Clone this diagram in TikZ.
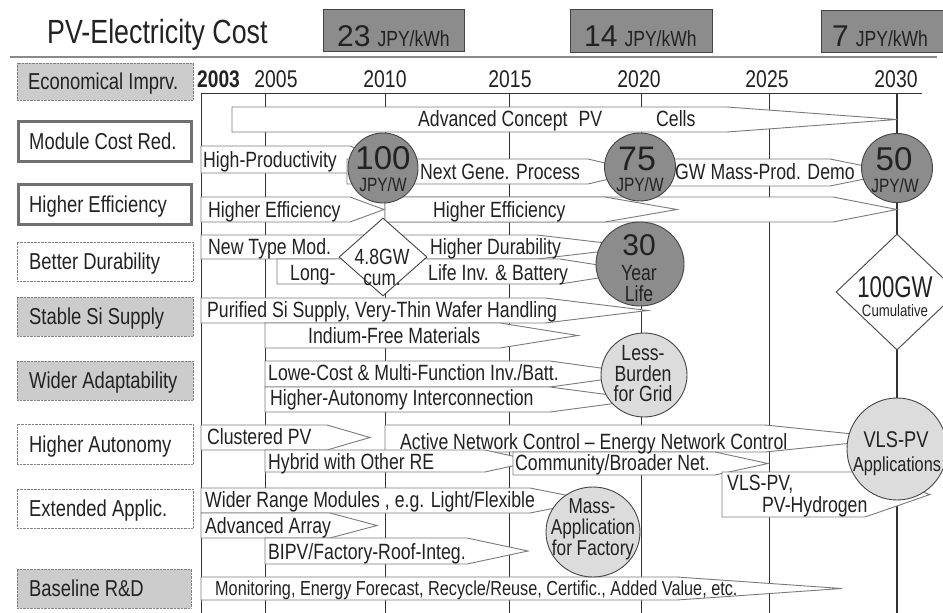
\documentclass[tikz,border=0pt]{standalone}
\usepackage{fontspec}
\setmainfont[FakeStretch=0.8]{Liberation Sans}
\newfontfamily\widefont{Liberation Sans}
\newfontfamily\narrowfont[FakeStretch=0.74]{Liberation Sans}
\usetikzlibrary{shapes.geometric}
\definecolor{txt}{HTML}{222222}
\definecolor{dkfill}{HTML}{8C8C8C}
\definecolor{dkline}{HTML}{444444}
\definecolor{ltfill}{HTML}{DCDCDC}
\definecolor{lblfill}{HTML}{CCCCCC}
\definecolor{arrline}{HTML}{7A7A7A}
\definecolor{yrline}{HTML}{333333}
\definecolor{thickline}{HTML}{707070}
\definecolor{sepline}{HTML}{8A8A8A}
\newcommand{\fsz}[1]{\fontsize{#1}{#1}\selectfont}
\newcommand{\pvarrow}[5]{\draw[arrowbox] (#1,#2) -- (#4,#2) -- (#5,{(#2+#3)/2}) -- (#4,#3) -- (#1,#3) -- cycle;}
\tikzset{
  body/.style={font=\fsz{22.1}, text=txt, inner sep=0pt, anchor=west, text height=15.8pt, text depth=0pt},
  lbl/.style={font=\fsz{23}, text=txt, inner sep=0pt, anchor=west, text height=16.5pt, text depth=0pt},
  cbase/.style={text=txt, inner sep=0pt, anchor=base},
  arrowbox/.style={draw=arrline, fill=white, line width=0.9pt},
  yearline/.style={draw=yrline, line width=0.9pt},
  dkcirc/.style={ellipse, draw=dkline, fill=dkfill, line width=0.9pt, inner sep=0pt},
  ltcirc/.style={ellipse, draw=dkline, fill=ltfill, line width=0.9pt, inner sep=0pt},
  dia/.style={diamond, draw=dkline, fill=white, line width=0.9pt, inner sep=0pt},
  lblgray/.style={rectangle, draw=gray, fill=lblfill, dash pattern=on 0.7pt off 0.7pt, line width=0.7pt, inner sep=0pt, minimum width=176pt},
  lbldot/.style={rectangle, draw=gray, fill=white, dash pattern=on 0.7pt off 0.7pt, line width=0.7pt, inner sep=0pt, minimum width=176pt},
  lblthick/.style={rectangle, draw=thickline, fill=white, line width=3pt, inner sep=0pt, minimum width=173pt, minimum height=40pt},
  costbox/.style={rectangle, draw=dkline, fill=dkfill, line width=1pt, inner sep=0pt},
}
\begin{document}
\begin{tikzpicture}[x=1pt,y=-1pt]
\useasboundingbox (0,0) rectangle (943,613);
\clip (0,0) rectangle (943,613);
\fill[white] (0,0) rectangle (943,613);

% header
\node[cbase, font=\fsz{33.5}, anchor=base west] (title) at (47,43) {PV-Electricity Cost};
\node[costbox, minimum width=141pt, minimum height=42pt] (cost23) at (393.5,30) {};
\node[costbox, minimum width=142pt, minimum height=43pt] (cost14) at (641,30.5) {};
\node[costbox, minimum width=130pt, minimum height=42pt] (cost7) at (886,31) {};
\node[cbase, anchor=base west] (c23t) at (337,46) {{\widefont\fsz{30}23}\hspace{7pt}{\fsz{21.9}JPY/kWh}};
\node[cbase, anchor=base west] (c14t) at (584,46) {{\widefont\fsz{30}14}\hspace{7pt}{\fsz{21.9}JPY/kWh}};
\node[cbase, anchor=base west] (c7t) at (832,46) {{\widefont\fsz{30}7}\hspace{7pt}{\fsz{21.9}JPY/kWh}};
\draw[sepline, line width=2pt] (10,57) -- (937,57);

% year labels
\node[cbase, font=\bfseries\fsz{24}, anchor=base west] (y2003) at (197,87) {2003};
\node[cbase, font=\fsz{24.2}] (y2005) at (276,87) {2005};
\node[cbase, font=\fsz{24.2}] (y2010) at (385,87) {2010};
\node[cbase, font=\fsz{24.2}] (y2015) at (510,87) {2015};
\node[cbase, font=\fsz{24.2}] (y2020) at (639,87) {2020};
\node[cbase, font=\fsz{24.2}] (y2025) at (767,87) {2025};
\node[cbase, font=\fsz{24.2}] (y2030) at (896,87) {2030};

% axis and year lines
\draw[yearline] (201,93) -- (922,93);
\foreach \xx in {201,265,385,509,641,769} \draw[yearline] (\xx,93) -- (\xx,613);
\draw[yearline, line width=1.6pt] (897,93) -- (897,613);

% arrows
\pvarrow{232}{107}{132}{727}{897}
\pvarrow{201}{146}{173}{350}{385}
\pvarrow{347}{159}{184}{588}{641}
\pvarrow{641}{159}{186}{830}{897}
\pvarrow{385}{197}{222}{833}{897}
\pvarrow{201}{197}{222}{350}{384}
\pvarrow{385}{197}{222}{605}{677}
\pvarrow{201}{235}{259}{537}{640}
\pvarrow{277}{259}{284}{560}{640}
\pvarrow{201}{298}{323}{545}{648}
\pvarrow{265}{323}{348}{500}{578}
\pvarrow{265}{361}{387}{550}{644}
\pvarrow{265}{387}{412}{550}{644}
\pvarrow{201}{425}{450}{327}{370}
\pvarrow{385}{425}{452}{765}{897}
\pvarrow{265}{450}{472}{485}{535}
\pvarrow{513}{452}{475}{715}{768}
\pvarrow{722}{472}{517}{865}{930}
\pvarrow{201}{488}{513}{530}{593}
\pvarrow{201}{513}{538}{330}{377}
\pvarrow{265}{538}{564}{467}{528}
\pvarrow{201}{577}{600}{677}{842}

% arrow texts
\node[body] (tadv) at (418,119) {Advanced Concept\hspace{11pt}PV\hspace{54pt}Cells};
\node[body] (thp) at (203,160) {High-Productivity};
\node[body] (tng) at (420,172) {Next Gene. Process};
\node[body] (tgw) at (675,172) {GW Mass-Prod. Demo};
\node[body] (the1) at (208,210) {Higher Efficiency};
\node[body] (the2) at (433,210) {Higher Efficiency};
\node[body] (tnt) at (208,247) {New Type Mod.};
\node[body] (thd) at (430,247) {Higher Durability};
\node[body] (tlong) at (290,273) {Long-};
\node[body] (tlife) at (428,273) {Life Inv. \& Battery};
\node[body] (tpur) at (207,310) {Purified Si Supply, Very-Thin Wafer Handling};
\node[body] (tind) at (308,336) {Indium-Free Materials};
\node[body] (tlow) at (268,373) {Lowe-Cost \& Multi-Function Inv./Batt.};
\node[body] (thai) at (270,398) {Higher-Autonomy Interconnection};
\node[body] (tclu) at (207,437) {Clustered PV};
\node[body] (tact) at (400,442) {Active Network Control – Energy Network Control};
\node[body] (thyb) at (268,462) {Hybrid with Other RE};
\node[body] (tcom) at (515,463) {Community/Broader Net.};
\node[body] (tvls1) at (727,483) {VLS-PV,};
\node[body] (tvls2) at (762,505) {PV-Hydrogen};
\node[body] (twid) at (205,500) {Wider Range Modules , e.g. Light/Flexible};
\node[body] (tarr) at (205,526) {Advanced Array};
\node[body] (tbipv) at (268,552) {BIPV/Factory-Roof-Integ.};
\node[body, font=\fsz{20.3}, text height=14.5pt] (tmon) at (215,588) {Monitoring, Energy Forecast, Recycle/Reuse, Certific., Added Value, etc.};

% milestone circles
\node[dkcirc, minimum width=70pt, minimum height=70pt] (c100) at (383,168) {};
\node[cbase, font=\widefont\fsz{33}] at (383,169) {100};
\node[cbase, font=\fsz{19.3}] at (383,191) {JPY/W};
\node[dkcirc, minimum width=71pt, minimum height=68pt] (c75) at (640,167) {};
\node[cbase, font=\widefont\fsz{34}] at (637,170) {75};
\node[cbase, font=\fsz{19.3}] at (640,191) {JPY/W};
\node[dkcirc, minimum width=71pt, minimum height=69pt] (c50) at (897,168) {};
\node[cbase, font=\widefont\fsz{33}] at (894,170) {50};
\node[cbase, font=\fsz{19.3}] at (895,192) {JPY/W};
\node[dkcirc, minimum width=88pt, minimum height=84pt] (c30) at (640,264) {};
\node[cbase, font=\widefont\fsz{30}] at (639,255) {30};
\node[cbase, font=\fsz{22}] at (639,280) {Year};
\node[cbase, font=\fsz{22}] at (639,301) {Life};

\node[dia, minimum width=88pt, minimum height=78pt] (d48) at (383,257) {};
\node[cbase, font=\fsz{22}] at (382,264) {4.8GW};
\node[cbase, font=\fsz{21.5}] at (382,285.5) {cum.};
\node[dia, minimum width=122pt, minimum height=116pt] (d100) at (897,292) {};
\node[cbase, font=\narrowfont\fsz{30}] at (895,297) {100GW};
\node[cbase, font=\fsz{16.5}] at (895,316) {Cumulative};

\node[ltcirc, minimum width=86pt, minimum height=84pt] (cless) at (644,375) {};
\node[cbase, font=\fsz{22}] at (643,360) {Less-};
\node[cbase, font=\fsz{22}] at (643,381) {Burden};
\node[cbase, font=\fsz{22}] at (643,401) {for Grid};
\node[ltcirc, minimum width=100pt, minimum height=102pt] (cvls) at (897,449) {};
\node[cbase, font=\fsz{22.8}] at (896,447) {VLS-PV};
\node[cbase, font=\fsz{20.4}] at (897,471) {Applications};
\node[ltcirc, minimum width=94pt, minimum height=90pt] (cmass) at (593,532) {};
\node[cbase, font=\fsz{21.5}] at (592,513) {Mass-};
\node[cbase, font=\fsz{21.5}] at (593,534) {Application};
\node[cbase, font=\fsz{21.5}] at (593,555) {for Factory};

% left labels
\node[lblgray, minimum height=37pt] (lecon) at (105,81.5) {};
\node[lbl] at (28,81.5) {Economical Imprv.};
\node[lblthick] (lmod) at (105,141.5) {};
\node[lbl] at (29,141.5) {Module Cost Red.};
\node[lblthick] (lhe) at (105,204.5) {};
\node[lbl] at (29,204.5) {Higher Efficiency};
\node[lbldot, minimum height=39pt] (ldur) at (105,261.5) {};
\node[lbl] at (29,261.5) {Better Durability};
\node[lblgray, minimum height=39pt] (lsi) at (105,316.5) {};
\node[lbl] at (29,316.5) {Stable Si Supply};
\node[lblgray, minimum height=39pt] (lwid) at (105,380.5) {};
\node[lbl] at (29,380.5) {Wider Adaptability};
\node[lbldot, minimum height=40pt] (laut) at (105,444) {};
\node[lbl] at (29,444) {Higher Autonomy};
\node[lbldot, minimum height=39pt] (lext) at (105,508.5) {};
\node[lbl] at (29,508.5) {Extended Applic.};
\node[lblgray, minimum height=39pt, minimum width=174pt] (lbase) at (104,588.5) {};
\node[lbl] at (29,588.5) {Baseline R\&D};
\end{tikzpicture}
\end{document}
